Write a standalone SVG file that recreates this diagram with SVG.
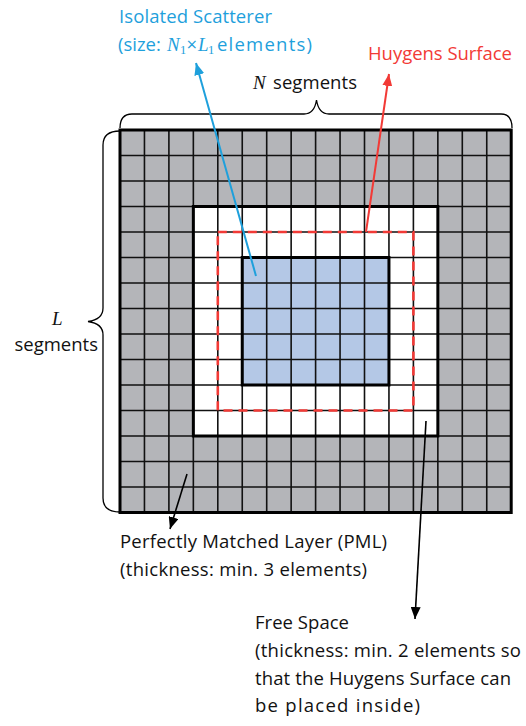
<svg xmlns="http://www.w3.org/2000/svg" width="526" height="726" viewBox="0 0 526 726">
<style>
.t{font-family:"Open Sans","Noto Sans","Liberation Sans",sans-serif;font-size:18.5px;fill:#111}
.blue{fill:#1ea0dc}
.red{fill:#f23a36}
.m{font-family:"Liberation Serif","DejaVu Serif",serif;font-style:italic;font-size:19px}
.sub{font-family:"Liberation Serif","DejaVu Serif",serif;font-size:12.5px}
.grid{stroke:#111;stroke-width:1.6;fill:none}
.thick{stroke:#000;stroke-width:3;fill:none}
.brace{stroke:#000;stroke-width:1.3;fill:none}
</style>
<defs>
<marker id="ab" markerUnits="userSpaceOnUse" markerWidth="13" markerHeight="10" refX="12" refY="5" orient="auto"><path d="M0,0 L12,5 L0,10 z" fill="#1ea0dc"/></marker>
<marker id="ar" markerUnits="userSpaceOnUse" markerWidth="13" markerHeight="10" refX="12" refY="5" orient="auto"><path d="M0,0 L12,5 L0,10 z" fill="#f23a36"/></marker>
<marker id="ak" markerUnits="userSpaceOnUse" markerWidth="13" markerHeight="10" refX="12" refY="5" orient="auto"><path d="M0,0 L12,5 L0,10 z" fill="#000"/></marker>
</defs>

<g id="pml">
<rect x="120" y="130" width="391.2" height="382.5" fill="#b4b5b9"/>
</g>
<g id="free-space">
<rect x="193.35" y="206.5" width="244.5" height="229.5" fill="#fff"/>
</g>
<g id="scatterer">
<rect x="242.25" y="257.5" width="146.7" height="127.5" fill="#b4c8e6"/>
</g>
<g id="grid-lines">
<path class="grid" d="M144.45,130V512.5M168.9,130V512.5M193.35,130V512.5M217.8,130V512.5M242.25,130V512.5M266.7,130V512.5M291.15,130V512.5M315.6,130V512.5M340.05,130V512.5M364.5,130V512.5M388.95,130V512.5M413.4,130V512.5M437.85,130V512.5M462.3,130V512.5M486.75,130V512.5
M120,155.5H511.2M120,181H511.2M120,206.5H511.2M120,232H511.2M120,257.5H511.2M120,283H511.2M120,308.5H511.2M120,334H511.2M120,359.5H511.2M120,385H511.2M120,410.5H511.2M120,436H511.2M120,461.5H511.2M120,487H511.2"/>
<rect class="thick" x="120" y="130" width="391.2" height="382.5"/>
<rect class="thick" x="193.35" y="206.5" width="244.5" height="229.5"/>
<rect class="thick" x="242.25" y="257.5" width="146.7" height="127.5"/>
</g>
<g id="huygens-surface">
<rect x="217.8" y="232" width="195.6" height="178.5" fill="none" stroke="#f23a36" stroke-width="2.6" stroke-dasharray="9,6"/>
</g>

<g id="braces">
<path class="brace" d="M120,128 C120,119 124,114 132,114 L304,114 C311,114 315,110 316.5,100 C318,110 322,114 329,114 L501,114 C508,114 512,119 512,128"/>
<path class="brace" d="M120,131 C110,131 103,135 103,145 L103,308 C103,315 99,320 88,321.5 C99,323 103,328 103,335 L103,498 C103,508 110,512 120,512"/>
</g>

<g id="connectors">
<line x1="256" y1="276" x2="196" y2="63" stroke="#1ea0dc" stroke-width="2" marker-end="url(#ab)"/>
<line x1="366" y1="232" x2="389" y2="74" stroke="#f23a36" stroke-width="2" marker-end="url(#ar)"/>
<line x1="187" y1="474" x2="170" y2="529" stroke="#000" stroke-width="1.6" marker-end="url(#ak)"/>
<line x1="426" y1="421" x2="415" y2="619" stroke="#000" stroke-width="1.6" marker-end="url(#ak)"/>
</g>

<g id="label-scatterer">
<text class="t blue" x="119" y="23" textLength="153">Isolated Scatterer</text>
<text class="t blue" y="51"><tspan x="118">(size:</tspan><tspan class="m" x="167">N</tspan><tspan class="sub" x="180" dy="3">1</tspan><tspan x="186.5" dy="-3">×</tspan><tspan class="m" x="198">L</tspan><tspan class="sub" x="208" dy="3">1</tspan><tspan x="217" dy="-3" textLength="95">elements)</tspan></text>
</g>
<g id="label-huygens">
<text class="t red" x="368" y="60" textLength="144">Huygens Surface</text>
</g>
<g id="label-n">
<text class="t" y="89"><tspan class="m" x="253">N</tspan><tspan x="273" textLength="84">segments</tspan></text>
</g>
<g id="label-l">
<text class="m" x="52" y="325" fill="#111">L</text>
<text class="t" x="98" y="351" text-anchor="end">segments</text>
</g>
<g id="label-pml">
<text class="t" x="120" y="548" textLength="267">Perfectly Matched Layer (PML)</text>
<text class="t" x="120" y="576" textLength="247">(thickness: min. 3 elements)</text>
</g>
<g id="label-free">
<text class="t" x="255" y="629" textLength="94">Free Space</text>
<text class="t" x="255" y="657" textLength="266">(thickness: min. 2 elements so</text>
<text class="t" x="255" y="685" textLength="256">that the Huygens Surface can</text>
<text class="t" x="255" y="712" textLength="165">be placed inside)</text>
</g>
</svg>
